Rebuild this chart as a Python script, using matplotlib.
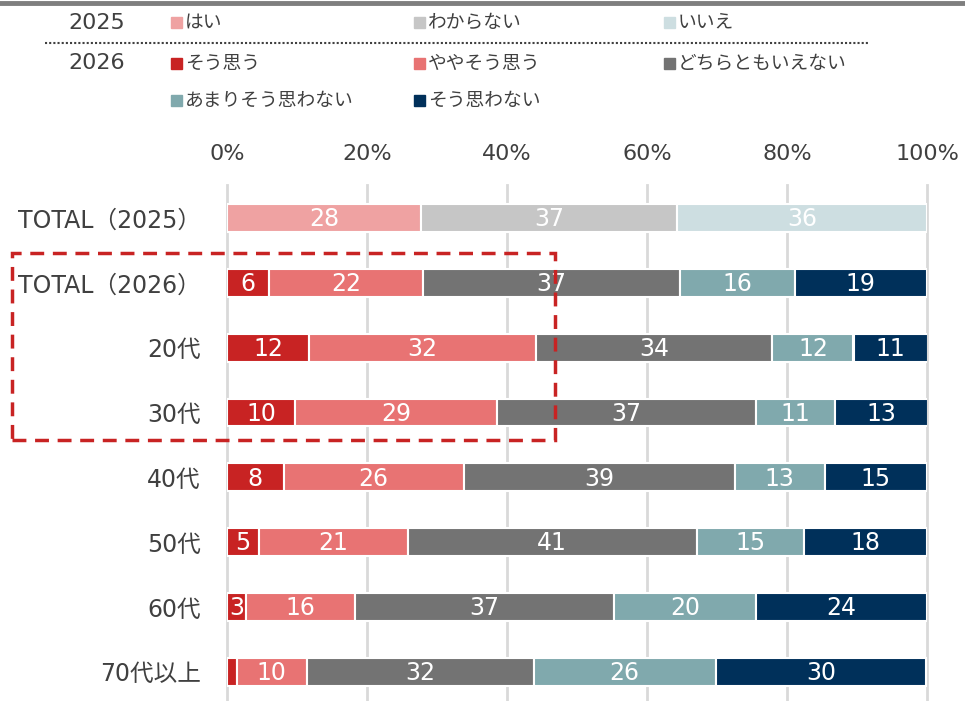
import matplotlib
matplotlib.use("Agg")
import matplotlib.pyplot as plt
import matplotlib.patches as mpatches
import matplotlib.lines as mlines

plt.rcParams['font.family'] = ['DejaVu Sans', 'Noto Sans CJK JP']

categories = ["TOTAL（2025）", "TOTAL（2026）", "20代", "30代", "40代", "50代", "60代", "70代以上"]

# 2025 answers (TOTAL only)
legend_2025 = ["はい", "わからない", "いいえ"]
colors_2025 = ["#EFA2A2", "#C6C6C6", "#CDDEE1"]
values_2025 = [27.7, 36.6, 35.7]

# 2026 answers, one list per answer, one value per row (rows 1..7)
legend_2026 = ["そう思う", "ややそう思う", "どちらともいえない", "あまりそう思わない", "そう思わない"]
colors_2026 = ["#C82323", "#E87373", "#737373", "#80A9AD", "#00305A"]
sou_omou = [6.0, 11.7, 9.7, 8.1, 4.6, 2.7, 1.4]
yaya = [22.0, 32.4, 28.9, 25.7, 21.2, 15.6, 10.0]
dochira = [36.7, 33.8, 36.9, 38.7, 41.3, 37.0, 32.4]
amari = [16.4, 11.6, 11.3, 12.9, 15.3, 20.3, 26.0]
omowanai = [18.9, 10.6, 13.3, 14.6, 17.6, 24.4, 30.1]
series_2026 = [sou_omou, yaya, dochira, amari, omowanai]

ticks = [0, 20, 40, 60, 80, 100]

fig = plt.figure(figsize=(9.65, 7.01), dpi=100)
ax = fig.add_axes([227 / 965, 0, 700 / 965, 516 / 701])

bar_h = 0.43
text_col = "#404040"


def draw_segment(y, left, width, color):
    ax.barh(y, width, left=left, height=bar_h, color=color,
            edgecolor="white", linewidth=1.5, zorder=3)
    if width >= 2:
        ax.text(left + width / 2, y + 0.02, str(int(width + 0.5)), ha="center", va="center",
                color="white", fontsize=17, zorder=4)


# TOTAL 2025
left = 0
for v, c in zip(values_2025, colors_2025):
    draw_segment(0, left, v, c)
    left += v

# 2026 rows
for i in range(len(categories) - 1):
    left = 0
    for s, c in zip(series_2026, colors_2026):
        draw_segment(i + 1, left, s[i], c)
        left += s[i]

ax.set_xlim(0, 100)
ax.set_ylim(7.45, -0.51)
ax.set_xticks(ticks)
ax.set_xticklabels([f"{t}%" for t in ticks], fontsize=16, color=text_col)
ax.xaxis.tick_top()
ax.tick_params(axis="x", length=0, pad=15)
ax.set_yticks(range(len(categories)))
ax.set_yticklabels(categories, fontsize=17, color=text_col)
ax.tick_params(axis="y", length=0, pad=19)
for sp in ax.spines.values():
    sp.set_visible(False)
for t in ticks:
    ax.axvline(t, color="#D9D9D9", linewidth=2, zorder=1, clip_on=False)

# top rule and dotted separator
fig.add_artist(mlines.Line2D([0, 1], [1 - 3 / 701, 1 - 3 / 701], color="#7F7F7F",
                             linewidth=3.5, transform=fig.transFigure))
fig.add_artist(mlines.Line2D([45 / 965, 870 / 965], [1 - 43 / 701, 1 - 43 / 701],
                             color="#404040", linewidth=1.5, linestyle=(0, (1, 1)),
                             transform=fig.transFigure))

# legend
def legend_item(x, y, label, color):
    fig.add_artist(mpatches.Rectangle(((x - 6) / 965, 1 - (y + 6) / 701), 11 / 965, 11 / 701,
                                      color=color, transform=fig.transFigure))
    fig.text((x + 8) / 965, 1 - y / 701, label, fontsize=13.5, color=text_col,
             va="center", ha="left")


fig.text(97 / 965, 1 - 23 / 701, "2025", fontsize=16, color=text_col, ha="center", va="center")
fig.text(97 / 965, 1 - 63 / 701, "2026", fontsize=16, color=text_col, ha="center", va="center")
for x, lab, c in zip([177, 420, 670], legend_2025, colors_2025):
    legend_item(x, 22, lab, c)
pos_2026 = [(177, 63), (420, 63), (670, 63), (177, 100), (420, 100)]
for (x, y), lab, c in zip(pos_2026, legend_2026, colors_2026):
    legend_item(x, y, lab, c)

# dashed highlight box around TOTAL(2026), 20代, 30代
fig.add_artist(mpatches.Rectangle((12 / 965, 1 - 440 / 701), 543 / 965, 187 / 701,
                                  fill=False, edgecolor="#C82323", linewidth=2.5,
                                  linestyle=(0, (4, 2.5)), transform=fig.transFigure, zorder=10))

fig.savefig("out.png", dpi=100)
